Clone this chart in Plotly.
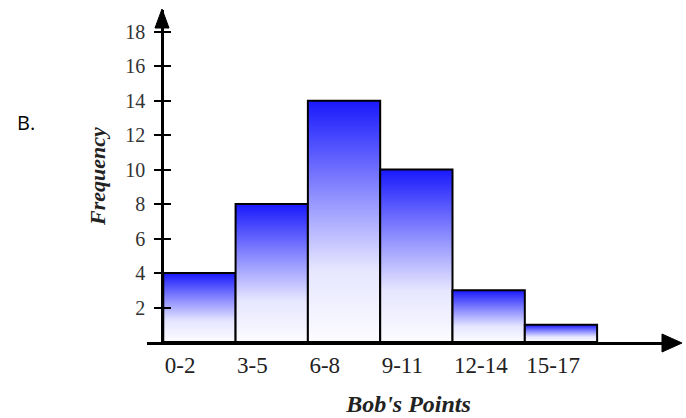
import plotly.graph_objects as go

categories = ["0-2", "3-5", "6-8", "9-11", "12-14", "15-17"]
frequency = [4, 8, 14, 10, 3, 1]
y_tick_values = [2, 4, 6, 8, 10, 12, 14, 16, 18]
x_title = "Bob's Points"
y_title = "Frequency"

W, H = 686, 418


def fx(px):
    return px / W


def fy(py):
    return 1 - py / H


gradient = [
    [0.0, "rgb(252,252,255)"],
    [0.3, "rgb(230,230,255)"],
    [0.6, "rgb(145,145,255)"],
    [1.0, "rgb(25,25,252)"],
]

fig = go.Figure()
for i, (cat, v) in enumerate(zip(categories, frequency)):
    fig.add_trace(go.Scatter(
        x=[i - 0.5, i - 0.5, i + 0.5, i + 0.5, i - 0.5],
        y=[0, v, v, 0, 0],
        mode="lines",
        fill="toself",
        fillgradient=dict(type="vertical", colorscale=gradient),
        line=dict(color="black", width=2),
        name=cat,
        hoverinfo="skip",
        showlegend=False,
    ))

# invisible helper trace so the overlay tick axis is drawn
fig.add_trace(go.Scatter(
    x=list(range(len(categories))), y=frequency, yaxis="y2",
    mode="markers", marker=dict(opacity=0), hoverinfo="skip", showlegend=False,
))

y_pos = fx(162)
y_top = 332 / 17.24

fig.update_layout(
    width=W,
    height=H,
    margin=dict(l=0, r=0, t=0, b=0),
    paper_bgcolor="white",
    plot_bgcolor="white",
    xaxis=dict(
        domain=[fx(147), fx(670)],
        range=[-0.725, 6.508],
        showline=True,
        linecolor="black",
        linewidth=3,
        tickvals=[i - 0.5 for i in range(len(categories))],
        ticktext=categories,
        ticklabelposition="outside right",
        ticks="",
        showgrid=False,
        zeroline=False,
        automargin=False,
        tickfont=dict(family="Liberation Serif", size=23, color="#222"),
        title=dict(
            text="<b><i>" + x_title + "</i></b>",
            font=dict(family="Liberation Serif", size=24, color="#222"),
            standoff=19,
        ),
    ),
    yaxis=dict(
        domain=[fy(342), fy(10)],
        range=[0, y_top],
        anchor="free",
        position=y_pos,
        tickmode="array",
        tickvals=y_tick_values,
        ticktext=[str(v) for v in y_tick_values],
        showgrid=False,
        zeroline=False,
        automargin=False,
        showline=True,
        linecolor="black",
        linewidth=2.5,
        ticks="outside",
        ticklen=7,
        tickwidth=2,
        tickcolor="black",
        ticklabelstandoff=5,
        tickfont=dict(family="Liberation Serif", size=20, color="#333"),
        title=dict(
            text="<b><i>" + y_title + "</i></b>",
            font=dict(family="Liberation Serif", size=22, color="#222"),
            standoff=12,
        ),
    ),
    yaxis2=dict(
        domain=[fy(342), fy(10)],
        range=[0, y_top],
        overlaying="y",
        anchor="free",
        position=y_pos,
        side="left",
        tickmode="array",
        tickvals=y_tick_values,
        showgrid=False,
        zeroline=False,
        automargin=False,
        showline=False,
        ticks="inside",
        ticklen=8,
        tickwidth=2,
        tickcolor="black",
        showticklabels=False,
    ),
    shapes=[
        dict(type="path", xref="paper", yref="paper",
             path=f"M {fx(155)} {fy(28)} L {fx(162)} {fy(9)} L {fx(169)} {fy(28)} Z",
             fillcolor="black", line=dict(color="black", width=1)),
        dict(type="path", xref="paper", yref="paper",
             path=f"M {fx(662)} {fy(334)} L {fx(682)} {fy(343)} L {fx(662)} {fy(352)} Z",
             fillcolor="black", line=dict(color="black", width=1)),
    ],
    annotations=[
        dict(text="B.", xref="paper", yref="paper", x=fx(15), y=fy(122),
             xanchor="left", yanchor="middle", showarrow=False,
             font=dict(family="Open Sans", size=20, color="black")),
    ],
)

fig.write_html("out.html")
